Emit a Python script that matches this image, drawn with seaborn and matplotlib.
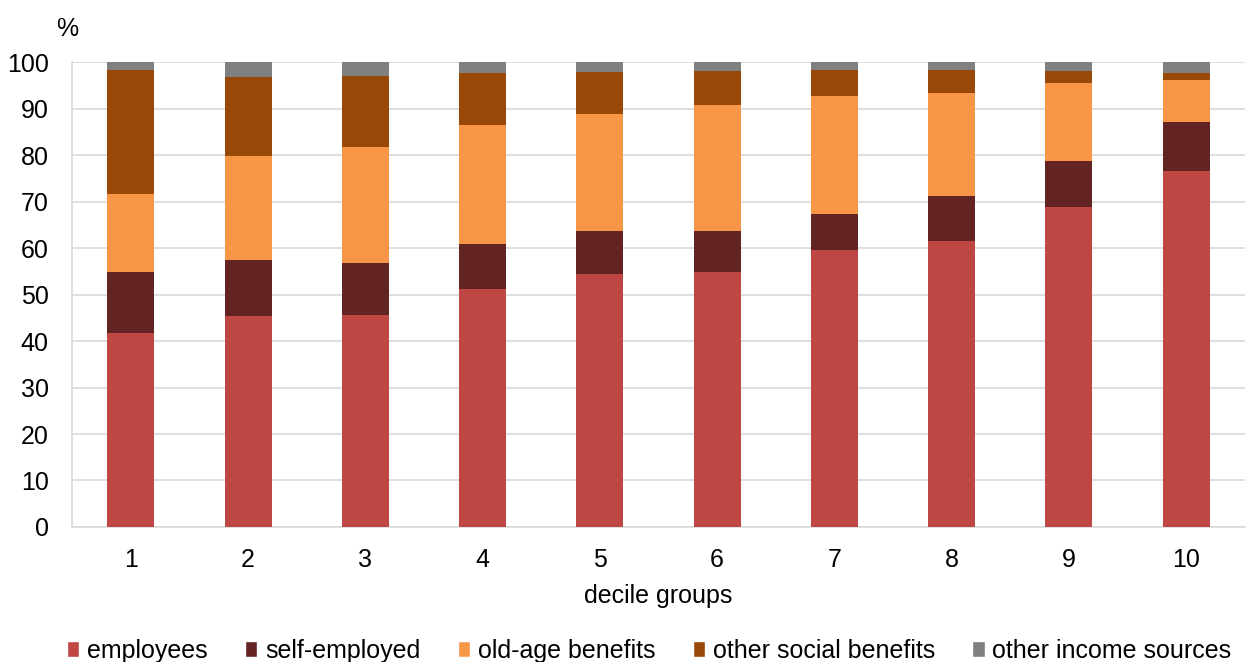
import pandas as pd
import seaborn as sns
import matplotlib.pyplot as plt
from matplotlib.patches import Patch

deciles = ['1', '2', '3', '4', '5', '6', '7', '8', '9', '10']
employees = [41.7, 45.3, 45.6, 51.1, 54.5, 54.8, 59.7, 61.6, 68.8, 76.6]
self_employed = [13.1, 12.2, 11.1, 9.8, 9.1, 8.8, 7.7, 9.7, 10.0, 10.6]
old_age = [16.8, 22.4, 25.1, 25.7, 25.2, 27.1, 25.3, 22.1, 16.8, 9.0]
other_social = [26.8, 16.9, 15.3, 11.0, 9.1, 7.4, 5.7, 5.0, 2.5, 1.4]
other_income = [1.6, 3.2, 2.9, 2.4, 2.1, 1.9, 1.6, 1.6, 1.9, 2.4]

series = ['employees', 'self-employed', 'old-age benefits',
          'other social benefits', 'other income sources']
colors = ['#BE4643', '#632323', '#F79646', '#984807', '#808080']

df = pd.DataFrame({
    'decile': deciles,
    'employees': employees,
    'self-employed': self_employed,
    'old-age benefits': old_age,
    'other social benefits': other_social,
    'other income sources': other_income,
})
cum = df[series].cumsum(axis=1)

sns.set_style('white')
plt.rcParams['font.family'] = ['Liberation Sans', 'DejaVu Sans']
plt.rcParams['text.color'] = '#000000'
plt.rcParams['xtick.color'] = '#000000'
plt.rcParams['ytick.color'] = '#000000'

fs = 18

fig = plt.figure(figsize=(12.46, 6.62), dpi=100)
ax = fig.add_axes([0.058, 0.204, 0.941, 0.702])

# draw from the top segment down so each bar covers the one behind it
for name, col in reversed(list(zip(series, colors))):
    sns.barplot(x=df['decile'], y=cum[name], color=col, width=0.4,
                saturation=1, ax=ax, linewidth=0, zorder=3)

ax.set_ylim(0, 100)
ax.set_xlim(-0.5, 9.5)
ax.set_yticks(range(0, 101, 10))
ax.yaxis.grid(True, color='#D9D9D9', linewidth=1.2, zorder=0)
ax.set_axisbelow(True)
for s in ['top', 'right']:
    ax.spines[s].set_visible(False)
for s in ['left', 'bottom']:
    ax.spines[s].set_color('#D9D9D9')
    ax.spines[s].set_linewidth(1.2)

ax.tick_params(axis='y', length=7, color='#D9D9D9', labelsize=fs, pad=10,
               labelcolor='#000000')
ax.tick_params(axis='x', length=0, labelsize=fs, pad=15, labelcolor='#000000')
ax.set_xticks([i + 0.5 for i in range(-1, 10)], minor=True)
ax.tick_params(axis='x', which='minor', length=7, color='#D9D9D9')

ax.set_xlabel('decile groups', fontsize=fs, labelpad=9, color='#000000')
ax.set_ylabel('')
ax.text(-0.004, 1.045, '%', transform=ax.transAxes, fontsize=fs,
        ha='center', va='bottom')

handles = [Patch(facecolor=c, label=n) for n, c in zip(series, colors)]
fig.legend(handles=handles, loc='lower center', ncol=5, frameon=False,
           fontsize=fs, bbox_to_anchor=(0.521, -0.035), handlelength=0.5,
           handleheight=0.6, handletextpad=0.3, columnspacing=1.5)

fig.savefig('out.png', dpi=100)
